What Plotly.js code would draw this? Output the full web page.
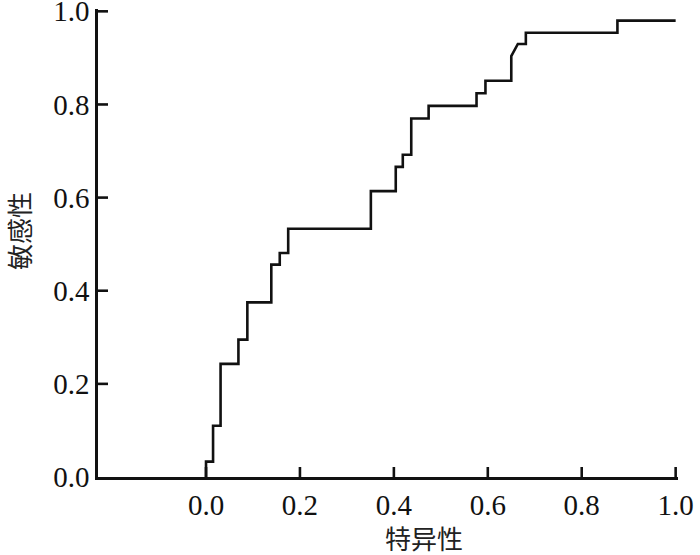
<!DOCTYPE html>
<html>
<head>
<meta charset="utf-8">
<script src="https://cdn.plot.ly/plotly-3.0.1.min.js"></script>
<style>body{margin:0;padding:0;background:#fff}#chart{width:700px;height:555px}</style>
</head>
<body>
<div id="chart"></div>
<script>
// ROC curve vertices (x labelled 特异性, y labelled 敏感性)
const specificity = [0.000, 0.000, 0.015, 0.015, 0.031, 0.031, 0.069, 0.069, 0.088, 0.088,
  0.139, 0.139, 0.157, 0.157, 0.175, 0.175, 0.351, 0.351, 0.404, 0.404, 0.419, 0.419,
  0.437, 0.437, 0.474, 0.474, 0.576, 0.576, 0.595, 0.595, 0.650, 0.650, 0.664, 0.681,
  0.681, 0.876, 0.876, 1.000];
const sensitivity = [0.000, 0.033, 0.033, 0.110, 0.110, 0.243, 0.243, 0.295, 0.295, 0.375,
  0.375, 0.456, 0.456, 0.481, 0.481, 0.533, 0.533, 0.614, 0.614, 0.666, 0.666, 0.692,
  0.692, 0.770, 0.770, 0.797, 0.797, 0.824, 0.824, 0.851, 0.851, 0.904, 0.930, 0.930,
  0.954, 0.954, 0.980, 0.980];
const tickVals = [0, 0.2, 0.4, 0.6, 0.8, 1.0];
const tickText = ['0.0', '0.2', '0.4', '0.6', '0.8', '1.0'];
const xTitle = '特异性';
const yTitle = '敏感性';

const W = 700, H = 555;
const M = {l: 98, r: 22, t: 9, b: 78};
const plotW = W - M.l - M.r, plotH = H - M.t - M.b;
const tickPx = 10;

const cjkFont = {family: 'Noto Sans CJK SC', size: 26, color: '#222'};
const tickStyle = {color: '#111', width: 2.6};

// inward tick marks at the tick values
const tickShapes = [];
tickVals.forEach(v => {
  tickShapes.push({type: 'line', xref: 'x', yref: 'paper',
    x0: v, x1: v, y0: 0, y1: tickPx / plotH, line: tickStyle, layer: 'above'});
  if (v > 0) {
    tickShapes.push({type: 'line', xref: 'paper', yref: 'y',
      x0: 0, x1: tickPx / plotW, y0: v, y1: v, line: tickStyle, layer: 'above'});
  }
});

const layout = {
  width: W, height: H,
  margin: M,
  font: {family: 'Liberation Serif', size: 29, color: '#111'},
  showlegend: false,
  xaxis: {
    range: [-0.23, 1.005], showgrid: false, zeroline: false,
    showline: true, linecolor: '#111', linewidth: 2.5,
    ticks: '', tickvals: tickVals, ticktext: tickText, ticklabeloverflow: 'allow'
  },
  yaxis: {
    range: [0, 1.005], showgrid: false, zeroline: false,
    showline: true, linecolor: '#111', linewidth: 2.5,
    ticks: '', tickvals: tickVals, ticktext: tickText, ticklabeloverflow: 'allow'
  },
  shapes: tickShapes,
  annotations: [
    {text: xTitle, xref: 'paper', yref: 'paper', x: (424 - M.l) / plotW, y: -(537 - 477) / plotH,
     xanchor: 'center', yanchor: 'middle', showarrow: false, font: cjkFont},
    {text: yTitle, xref: 'paper', yref: 'paper', x: -(M.l - 18) / plotW, y: (477 - 231) / plotH,
     xanchor: 'center', yanchor: 'middle', showarrow: false, font: cjkFont, textangle: -90}
  ]
};

Plotly.newPlot('chart', [{
  x: specificity, y: sensitivity, type: 'scatter', mode: 'lines',
  line: {color: '#111', width: 2.6}, hoverinfo: 'skip'
}], layout, {displayModeBar: false});
</script>
</body>
</html>
